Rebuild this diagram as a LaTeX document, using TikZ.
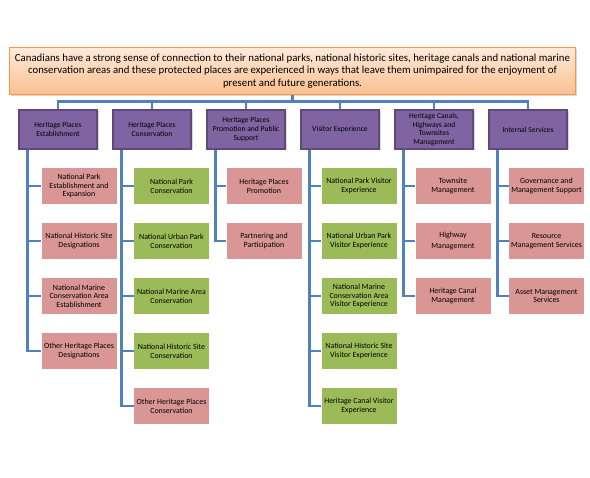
\documentclass[tikz,border=0pt]{standalone}
\usepackage{fontspec}
\setmainfont{Carlito}
\usepackage{xcolor}
\usepackage{tikz}
\usetikzlibrary{calc,positioning,shadows}

\definecolor{orangeline}{HTML}{F79646}
\definecolor{orangetop}{HTML}{FDEADA}
\definecolor{orangebot}{HTML}{FAC090}
\definecolor{purplefill}{HTML}{8064A2}
\definecolor{purpleline}{HTML}{5F497A}
\definecolor{pinkfill}{HTML}{D99694}
\definecolor{greenfill}{HTML}{9BBB59}
\definecolor{linkblue}{HTML}{4F81BD}

\tikzset{
  topbox/.style={draw=orangeline, top color=orangetop, bottom color=orangebot,
    minimum width=566pt, minimum height=47pt, inner sep=1pt, align=center,
    font=\fontsize{10.8}{12.5}\selectfont,
    drop shadow={opacity=0.3, shadow xshift=1.5pt, shadow yshift=-1.5pt}},
  headbox/.style={draw=purpleline, fill=purplefill, line width=2pt,
    minimum width=78pt, minimum height=39pt, inner sep=1pt, align=center,
    font=\fontsize{7.6}{8.7}\selectfont,
    drop shadow={opacity=0.3, shadow xshift=1.5pt, shadow yshift=-1.5pt}},
  pinkbox/.style={fill=pinkfill, minimum width=75pt, minimum height=36pt,
    inner sep=1pt, align=center, font=\fontsize{7.9}{8.6}\selectfont},
  greenbox/.style={pinkbox, fill=greenfill},
  link/.style={draw=linkblue, line width=2.5pt}
}

\begin{document}
\begin{tikzpicture}[x=1pt,y=-1pt]
  \useasboundingbox (0,0) rectangle (590,478); %固定页面大小
  \node[topbox] (top) at (292.5,71) {Canadians have a strong sense of connection to their national parks, national historic sites, heritage canals and national marine\\
    conservation areas and these protected places are experienced in ways that leave them unimpaired for the enjoyment of\\
    present and future generations.};
  \coordinate (bus) at ($(top.south)+(0,7)$);
  \foreach \i/\txt in {1/{Heritage Places\\Establishment},2/{Heritage Places\\Conservation},
      3/{Heritage Places\\Promotion and Public\\Support},4/{Visitor Experience},
      5/{Heritage Canals,\\Highways and\\Townsites\\Management},6/{Internal Services}}
    \node[headbox] (h\i) at ({58+94*(\i-1)},129.5) {\txt};
  \foreach \i in {1,...,6}
    \draw[link] (h\i.north) |- (bus);
  \draw[link] (top.south) -- (bus);
  % 各列子框
  \foreach \j/\s/\txt in {1/pinkbox/{National Park\\Establishment and\\Expansion},
      2/pinkbox/{National Historic Site\\Designations},
      3/pinkbox/{National Marine\\Conservation Area\\Establishment},
      4/pinkbox/{Other Heritage Places\\Designations}}
    \node[\s] (c1\j) at (79,{186+55*(\j-1)}) {\txt};
  \foreach \j/\s/\txt in {1/greenbox/{National Park\\Conservation},
      2/greenbox/{National Urban Park\\Conservation},
      3/greenbox/{National Marine Area\\Conservation},
      4/greenbox/{National Historic Site\\Conservation},
      5/pinkbox/{Other Heritage Places\\Conservation}}
    \node[\s] (c2\j) at (171.5,{186+55*(\j-1)}) {\txt};
  \foreach \j/\s/\txt in {1/pinkbox/{Heritage Places\\Promotion},
      2/pinkbox/{Partnering and\\Participation}}
    \node[\s] (c3\j) at (264,{186+55*(\j-1)}) {\txt};
  \foreach \j/\s/\txt in {1/greenbox/{National Park Visitor\\Experience},
      2/greenbox/{National Urban Park\\Visitor Experience},
      3/greenbox/{National Marine\\Conservation Area\\Visitor Experience},
      4/greenbox/{National Historic Site\\Visitor Experience},
      5/greenbox/{Heritage Canal Visitor\\Experience}}
    \node[\s] (c4\j) at (359,{186+55*(\j-1)}) {\txt};
  \foreach \j/\s/\txt in {1/pinkbox/{Townsite\\Management},
      2/pinkbox/{Highway\\[3pt]Management},
      3/pinkbox/{Heritage Canal\\Management}}
    \node[\s] (c5\j) at (453,{186+55*(\j-1)}) {\txt};
  \foreach \j/\s/\txt in {1/pinkbox/{Governance and\\Management Support},
      2/pinkbox/{Resource\\Management Services},
      3/pinkbox/{Asset Management\\Services}}
    \node[\s] (c6\j) at (546.5,{186+55*(\j-1)}) {\txt};
  % 连线 折线 |-
  \foreach \i/\n in {1/4,2/5,3/2,4/5,5/3,6/3}
    \foreach \j in {1,...,\n}
      \draw[link] ([xshift=9.5pt]h\i.south west) |- (c\i\j.west);
\end{tikzpicture}
\end{document}
